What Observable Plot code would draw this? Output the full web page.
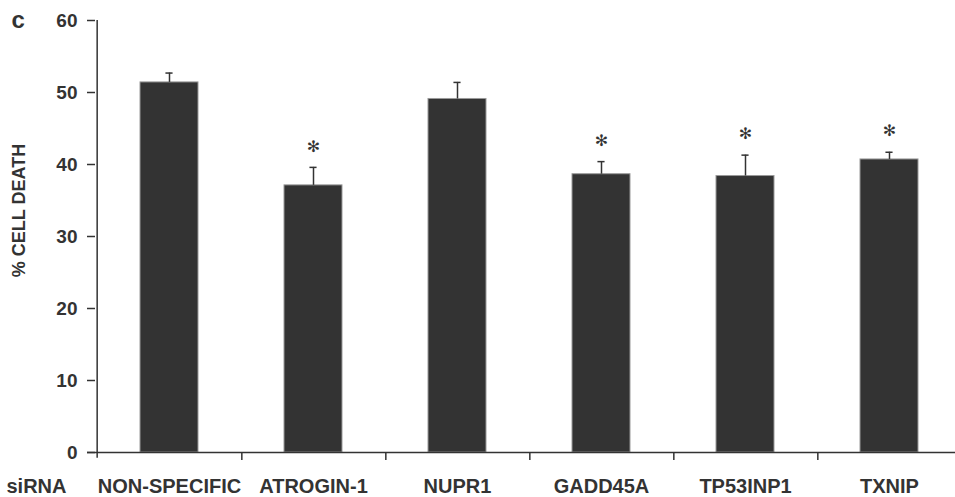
<!DOCTYPE html>
<html><head><meta charset="utf-8">
<script src="https://cdn.jsdelivr.net/npm/d3@7"></script>
<script src="https://cdn.jsdelivr.net/npm/@observablehq/plot@0.6"></script>
<style>body{margin:0;background:#fff}#chart{width:955px;height:497px}</style>
</head><body><div id="chart"></div>
<script>
const categories = ["NON-SPECIFIC", "ATROGIN-1", "NUPR1", "GADD45A", "TP53INP1", "TXNIP"];
const means = [51.4, 37.1, 49.1, 38.65, 38.4, 40.7];
const errors = [1.3, 2.5, 2.3, 1.75, 2.9, 1.0];
const significant = [false, true, false, true, true, true];
const yTicks = [0, 10, 20, 30, 40, 50, 60];
const panelLabel = "c";
const yTitle = "% CELL DEATH";
const rowLabel = "siRNA";

const data = categories.map((c, i) => ({c, m: means[i], e: errors[i], s: significant[i], hi: means[i] + errors[i]}));
const ink = "#333";
const x0 = 95, x1 = 963, step = (x1 - x0) / categories.length;
const font = "'Liberation Sans', Arial, Helvetica, sans-serif";

const plot = Plot.plot({
  width: 955, height: 497,
  marginLeft: 95, marginTop: 20, marginBottom: 45, marginRight: 0,
  style: {fontFamily: font, color: ink, background: "#fff", overflow: "visible"},
  x: {domain: categories, range: [x0, x1], paddingInner: 0.6, paddingOuter: 0.3},
  y: {domain: [0, 60]},
  marks: [
    Plot.barY(data, {x: "c", y: "m", fill: "#333", stroke: "#999", strokeWidth: 1}),
    Plot.ruleX(data, {x: "c", y1: "m", y2: "hi", stroke: ink, strokeWidth: 1.5}),
    Plot.tickY(data, {x: "c", y: "hi", stroke: ink, strokeWidth: 1.5, insetLeft: (step * 0.4 - 7) / 2, insetRight: (step * 0.4 - 7) / 2}),
    Plot.text(data.filter(d => d.s), {x: "c", y: "hi", text: () => "✻", dy: -21, fontSize: 16, fontFamily: "'DejaVu Sans', sans-serif", fill: ink}),
    // axes lines
    Plot.ruleY([0], {stroke: ink, strokeWidth: 1.5, insetLeft: -8}),
    Plot.ruleX([categories[0]], {x: d => d, dx: -step / 2, y1: -0.8, y2: 60, stroke: ink, strokeWidth: 1.5}),
    Plot.ruleX(categories.slice(0, -1), {x: d => d, dx: step / 2, y1: 0, y2: -1.1, stroke: ink, strokeWidth: 1.5}),
    Plot.axisY({ticks: yTicks, tickSize: 8, tickPadding: 10, fontSize: 19, fontWeight: "bold", label: null, stroke: ink, strokeWidth: 1.5}),
    Plot.axisX({tickSize: 0, tickPadding: 26, fontSize: 20, fontWeight: "bold", label: null}),
    Plot.text([rowLabel], {frameAnchor: "bottom-left", dx: -89, dy: 26, textAnchor: "start", lineAnchor: "top", fontSize: 20, fontWeight: "bold", fill: ink}),
    Plot.text([panelLabel], {frameAnchor: "top-left", dx: -84, textAnchor: "start", lineAnchor: "middle", fontSize: 24, fontWeight: "bold", fill: ink}),
    Plot.text([yTitle], {frameAnchor: "left", rotate: -90, dx: -76, dy: -26, textAnchor: "middle", lineAnchor: "middle", fontSize: 18, fontWeight: "bold", fill: ink})
  ]
});
document.getElementById("chart").appendChild(plot);
</script>
</body></html>
